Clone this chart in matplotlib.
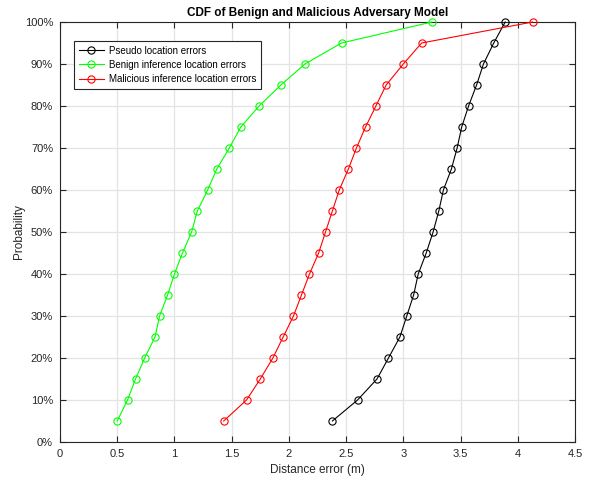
import matplotlib
matplotlib.use('Agg')
import matplotlib.pyplot as plt
from matplotlib.ticker import PercentFormatter

plt.rcParams['font.family'] = ['Liberation Sans', 'DejaVu Sans']

# probability levels (%)
prob = [5, 10, 15, 20, 25, 30, 35, 40, 45, 50, 55, 60, 65, 70, 75, 80, 85, 90, 95, 100]

# distance errors (m)
pseudo_err = [2.38, 2.60, 2.77, 2.87, 2.97, 3.03, 3.09, 3.13, 3.20, 3.26,
              3.31, 3.35, 3.42, 3.47, 3.51, 3.57, 3.64, 3.70, 3.79, 3.89]
benign_err = [0.50, 0.59, 0.66, 0.74, 0.83, 0.87, 0.94, 1.00, 1.07, 1.15,
              1.20, 1.29, 1.37, 1.48, 1.58, 1.74, 1.93, 2.14, 2.46, 3.25]
malicious_err = [1.43, 1.63, 1.75, 1.86, 1.95, 2.04, 2.11, 2.18, 2.26, 2.32,
                 2.38, 2.44, 2.52, 2.59, 2.67, 2.76, 2.85, 3.00, 3.16, 4.13]

fig = plt.figure(figsize=(5.95, 4.82), dpi=100)
ax = fig.add_axes([60 / 595, 40 / 482, 515 / 595, 420 / 482])

mk = dict(marker='o', markerfacecolor='none', markersize=5.2, linewidth=0.8,
          markeredgewidth=0.8, clip_on=False, zorder=3)
ax.plot(pseudo_err, prob, color='black', label='Pseudo location errors', **mk)
ax.plot(benign_err, prob, color='#00ff00', label='Benign inference location errors', **mk)
ax.plot(malicious_err, prob, color='red', label='Malicious inference location errors', **mk)

ax.set_xlim(0, 4.5)
ax.set_ylim(0, 100)
ax.set_xticks([0, 0.5, 1, 1.5, 2, 2.5, 3, 3.5, 4, 4.5])
ax.set_xticklabels(['0', '0.5', '1', '1.5', '2', '2.5', '3', '3.5', '4', '4.5'])
ax.set_yticks(range(0, 101, 10))
ax.yaxis.set_major_formatter(PercentFormatter(decimals=0))

ax.grid(True, color='#e3e3e3', linewidth=0.9)
ax.set_axisbelow(True)
ax.tick_params(direction='in', top=True, right=True, length=4, width=0.8,
               labelsize=8, colors='#262626', pad=5)
for s in ax.spines.values():
    s.set_color('#262626')
    s.set_linewidth(0.8)

ax.set_xlabel('Distance error (m)', fontsize=8.5, color='#262626')
ax.set_ylabel('Probability', fontsize=8.5, color='#262626', labelpad=0)
ax.set_title('CDF of Benign and Malicious Adversary Model', fontsize=8.5,
             fontweight='bold', pad=4)

leg = ax.legend(loc='upper left', bbox_to_anchor=(0.027, 0.955), fontsize=7,
                fancybox=False, framealpha=1, edgecolor='#262626',
                handlelength=2.6, handletextpad=0.5, borderpad=0.5,
                labelspacing=0.42, borderaxespad=0)
leg.get_frame().set_linewidth(0.8)

fig.savefig('out.png', dpi=100)
